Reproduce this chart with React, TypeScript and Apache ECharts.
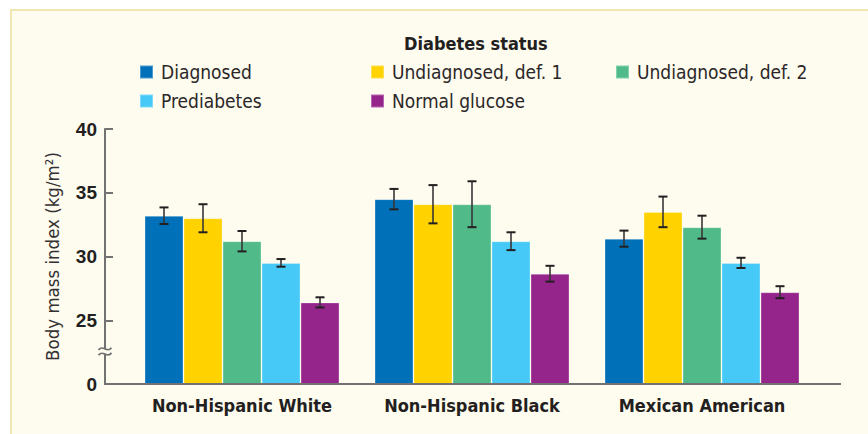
import React, { useEffect, useRef } from "react";
import * as echarts from "echarts";

// Population groups on the x axis
const categories = ["Non-Hispanic White", "Non-Hispanic Black", "Mexican American"];

// Diabetes status groups (legend order) and their colours
const statusNames = [
  "Diagnosed",
  "Undiagnosed, def. 1",
  "Undiagnosed, def. 2",
  "Prediabetes",
  "Normal glucose",
];
const statusColors = ["#0071b9", "#ffd200", "#50bb89", "#46c9f6", "#96258b"];

// Mean body mass index (kg/m²), one value per population group
const diagnosed = [33.2, 34.5, 31.4];
const undiagnosedDef1 = [33.0, 34.1, 33.5];
const undiagnosedDef2 = [31.2, 34.1, 32.3];
const prediabetes = [29.5, 31.2, 29.5];
const normalGlucose = [26.4, 28.65, 27.2];

// Half-width of the 95% confidence interval (± kg/m²)
const diagnosedErr = [0.65, 0.8, 0.63];
const undiagnosedDef1Err = [1.1, 1.5, 1.2];
const undiagnosedDef2Err = [0.8, 1.8, 0.9];
const prediabetesErr = [0.3, 0.7, 0.4];
const normalGlucoseErr = [0.4, 0.62, 0.47];

// y axis: broken scale, the bottom of the plot stands for 0
const yMin = 20;
const yMax = 40;
const yStep = 5;
const yBreakAt = 22.55;

const means = [diagnosed, undiagnosedDef1, undiagnosedDef2, prediabetes, normalGlucose];
const errors = [diagnosedErr, undiagnosedDef1Err, undiagnosedDef2Err, prediabetesErr, normalGlucoseErr];

const NARROW = "'Liberation Sans Narrow', 'DejaVu Sans Condensed', 'Liberation Sans', sans-serif";
const WIDE = "'Liberation Sans', Arial, sans-serif";
const INK = "#231f20";
const AXIS_GREY = "#727272";
const PAPER = "#fefbef";

const BAR_W = 39;
const GRID_LEFT = 127;
const GRID_RIGHT = 51;
const GRID_TOP = 129;
const GRID_BOTTOM = 50;
const AXIS_OVERHANG_L = 22;
const AXIS_OVERHANG_R = 24;

// legend slots: [left, top]
const legendSlots: [number, number][] = [
  [139, 60],
  [370, 60],
  [615, 60],
  [139, 89],
  [370, 89],
];

export default function App() {
  const ref = useRef<HTMLDivElement>(null);

  useEffect(() => {
    if (!ref.current) return;
    const chart = echarts.init(ref.current, undefined, { renderer: "svg" });

    const barSeries = statusNames.map((name, i) => ({
      type: "bar",
      name,
      data: means[i],
      barWidth: BAR_W,
      barGap: "0%",
      itemStyle: {
        color: statusColors[i],
        borderColor: "rgba(255,255,255,0.3)",
        borderWidth: 1,
      },
      z: 2,
    }));

    const errSeries = statusNames.map((name, i) => ({
      type: "custom",
      name: name + " CI",
      z: 5,
      data: categories.map((_, k) => [k, means[i][k], errors[i][k]]),
      encode: { x: 0, y: 1 },
      renderItem: (_params: any, api: any) => {
        const k = api.value(0);
        const m = api.value(1);
        const e = api.value(2);
        const hi = api.coord([k, m + e]);
        const lo = api.coord([k, m - e]);
        const x = hi[0] + (i - 2) * BAR_W;
        const cap = 4.5;
        const style = { stroke: INK, lineWidth: 2 };
        return {
          type: "group",
          children: [
            { type: "line", shape: { x1: x, y1: hi[1], x2: x, y2: lo[1] }, style: { stroke: "#3a3637", lineWidth: 1.6 } },
            { type: "line", shape: { x1: x - cap, y1: hi[1], x2: x + cap, y2: hi[1] }, style },
            { type: "line", shape: { x1: x - cap, y1: lo[1], x2: x + cap, y2: lo[1] }, style },
          ],
        };
      },
    }));

    const legends = statusNames.map((name, i) => ({
      data: [name],
      left: legendSlots[i][0],
      top: legendSlots[i][1],
      padding: 0,
      icon: "rect",
      itemWidth: 13,
      itemHeight: 13,
      selectedMode: false,
      textStyle: {
        fontFamily: NARROW,
        fontSize: 19,
        color: "#2b2728",
        lineHeight: 24,
        padding: [0, 0, 0, 3],
      },
    }));

    chart.setOption({
      animation: false,
      backgroundColor: "transparent",
      title: {
        text: "Diabetes status",
        left: 404,
        top: 31,
        padding: 0,
        textStyle: { fontFamily: NARROW, fontSize: 18, fontWeight: "bold", color: INK, lineHeight: 24 },
      },
      legend: legends,
      grid: { left: GRID_LEFT, right: GRID_RIGHT, top: GRID_TOP, bottom: GRID_BOTTOM },
      xAxis: {
        type: "category",
        data: categories,
        axisLine: { show: false },
        axisTick: { show: false },
        axisLabel: {
          interval: 0,
          fontFamily: NARROW,
          fontSize: 18,
          fontWeight: "bold",
          color: INK,
          margin: 12,
        },
      },
      yAxis: {
        type: "value",
        min: yMin,
        max: yMax,
        interval: yStep,
        offset: AXIS_OVERHANG_L,
        name: "Body mass index (kg/m²)",
        nameLocation: "middle",
        nameRotate: 90,
        nameGap: 43,
        nameTextStyle: { fontFamily: NARROW, fontSize: 18.5, color: "#333031" },
        splitLine: { show: false },
        axisLine: { show: true, lineStyle: { color: AXIS_GREY, width: 2 } },
        axisTick: { show: true, inside: true, length: 8, lineStyle: { color: AXIS_GREY, width: 2 } },
        axisLabel: {
          fontFamily: WIDE,
          fontSize: 19,
          fontWeight: "bold",
          color: INK,
          margin: 8,
          formatter: (v: number) => (v === yMin ? "0" : String(v)),
        },
      },
      series: [...barSeries, ...errSeries],
    });

    // baseline spanning the full plot width, plus the axis-break mark
    const base = chart.convertToPixel({ yAxisIndex: 0 }, yMin) as number;
    const brk = chart.convertToPixel({ yAxisIndex: 0 }, yBreakAt) as number;
    const width = chart.getWidth();
    const axisX = GRID_LEFT - AXIS_OVERHANG_L;
    const tilde = (cy: number) => ({
      type: "bezierCurve",
      shape: {
        x1: axisX - 6.5,
        y1: cy + 1.2,
        cpx1: axisX - 2,
        cpy1: cy - 5,
        cpx2: axisX + 2,
        cpy2: cy + 5,
        x2: axisX + 6.5,
        y2: cy - 1.2,
      },
      style: { stroke: AXIS_GREY, lineWidth: 1.8, fill: null },
      z: 11,
    });
    chart.setOption({
      graphic: [
        {
          type: "line",
          shape: { x1: axisX - 1, y1: base, x2: width - GRID_RIGHT + AXIS_OVERHANG_R, y2: base },
          style: { stroke: AXIS_GREY, lineWidth: 2 },
          z: 10,
        },
        {
          type: "rect",
          shape: { x: axisX - 3, y: brk - 2.5, width: 6, height: 5 },
          style: { fill: PAPER },
          z: 10,
        },
        tilde(brk - 2.6),
        tilde(brk + 2.6),
      ],
    });

    return () => chart.dispose();
  }, []);

  return (
    <div style={{ position: "fixed", left: 0, top: 0, width: 868, height: 434, background: "#ffffff" }}>
      <div
        style={{
          position: "absolute",
          left: 10,
          top: 9,
          right: 0,
          bottom: 0,
          background: PAPER,
          borderTop: "2px solid #f0e6b2",
          borderLeft: "2px solid #f0e6b2",
        }}
      />
      <div ref={ref} style={{ position: "absolute", left: 0, top: 0, width: 868, height: 434 }} />
    </div>
  );
}
